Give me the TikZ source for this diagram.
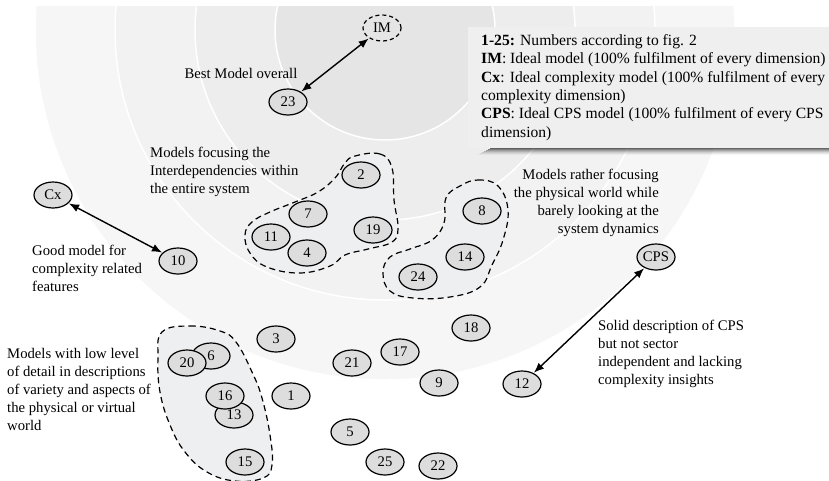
\documentclass[tikz,border=0pt]{standalone}
\usepackage{fontspec}
\setmainfont{Liberation Serif}
\usetikzlibrary{shapes.geometric,arrows.meta}

\definecolor{ringOne}{RGB}{229,229,229}
\definecolor{ringTwo}{RGB}{237,237,237}
\definecolor{ringThree}{RGB}{242,242,242}
\definecolor{ringFour}{RGB}{246,246,246}
\definecolor{nodegray}{RGB}{221,221,221}
\definecolor{groupfill}{RGB}{238,239,241}
\definecolor{legendfill}{RGB}{239,239,239}

\begin{document}
\begin{tikzpicture}[x=1pt,y=-1pt,
  txt/.style={font=\fontsize{14.7}{18}\selectfont},
  model/.style={ellipse,draw=black,line width=1.2pt,fill=nodegray,
    minimum width=38pt,minimum height=26pt,inner sep=0pt,txt},
  ideal/.style={model,fill=none,dash pattern=on 4pt off 3pt},
  note/.style={txt,inner sep=0pt},
  link/.style={{Latex[length=10pt,width=8pt]}-{Latex[length=10pt,width=8pt]},
    line width=1.4pt,shorten <=0.5pt,shorten >=0.5pt},
  cluster/.style={draw=black,line width=1.2pt,dash pattern=on 6pt off 4pt,
    fill=groupfill}
]
\useasboundingbox (0,0) rectangle (829,480);

% concentric rating rings around the ideal model
\begin{scope}
  \clip (0,6) rectangle (829,480);
  \fill[ringFour]  (385,30) circle[radius=350pt];
  \fill[ringThree] (385,30) circle[radius=270pt];
  \fill[ringTwo]   (385,30) circle[radius=190pt];
  \fill[ringOne]   (385,30) circle[radius=110pt];
  \foreach \r in {110,190,270,350}
    \draw[white,line width=1.5pt] (385,30) circle[radius=\r pt];
\end{scope}

% legend box with its shadow
\foreach \d/\o in {0/0.6,1/0.47,2/0.35,3/0.25,4/0.16,5/0.09,6/0.04}
  \fill[black,opacity=\o] (490-\d*2,148+\d) rectangle (829,149+\d);
\fill[legendfill] (468,27) rectangle (829,148);
\node[note,anchor=west,align=left,font=\fontsize{15.6}{18.3}\selectfont]
  (legend) at (481,87.5) {%
  \textbf{1-25:} Numbers according to fig. 2\\
  \textbf{IM}: Ideal model (100\% fulfilment of every dimension)\\
  \textbf{Cx}: Ideal complexity model (100\% fulfilment of every\\
  complexity dimension)\\
  \textbf{CPS}: Ideal CPS model (100\% fulfilment of every CPS\\
  dimension)};

% dashed clusters
\draw[cluster] plot[smooth cycle,tension=0.7] coordinates {
  (355,156) (380,154) (392,168) (394,200) (398,228) (392,242) (368,249)
  (345,255) (330,266) (300,273) (267,267) (250,253) (245,235) (252,222)
  (270,212) (295,202) (318,192) (335,178) (345,163)};
\draw[cluster] plot[smooth cycle,tension=0.7] coordinates {
  (460,186) (478,180) (498,186) (508,210) (503,240) (492,265) (480,287)
  (450,297) (413,298) (390,291) (383,273) (390,257) (410,249) (432,240)
  (444,223) (446,198)};
\draw[cluster] plot[smooth cycle,tension=0.7] coordinates {
  (162,332) (190,326) (220,331) (236,342) (252,372) (262,398) (270,435)
  (272,465) (263,478) (235,481) (207,472) (185,452) (170,425) (160,392)
  (158,358)};

% ideal models
\node[ideal] (IM) at (382,28) {IM};
\node[model] (Cx) at (53,195) {Cx};
\node[model] (CPS) at (656,257) {CPS};

% evaluated models
\node[model] (m23) at (288,102) {23};
\node[model] (m2)  at (361,175) {2};
\node[model] (m7)  at (308,214) {7};
\node[model] (m19) at (373,230) {19};
\node[model] (m11) at (271,237) {11};
\node[model] (m4)  at (307,253) {4};
\node[model] (m10) at (178,261) {10};
\node[model] (m8)  at (482,211) {8};
\node[model] (m14) at (465,257) {14};
\node[model] (m24) at (418,277) {24};
\node[model] (m18) at (471,328) {18};
\node[model] (m3)  at (276,339) {3};
\node[model] (m17) at (400,352) {17};
\node[model] (m21) at (352,363) {21};
\node[model] (m6)  at (211,356) {6};
\node[model] (m20) at (187,363) {20};
\node[model] (m9)  at (439,383) {9};
\node[model] (m12) at (522,384) {12};
\node[model] (m1)  at (291,396) {1};
\node[model] (m13) at (234,415) {13};
\node[model] (m16) at (225,396) {16};
\node[model] (m5)  at (350,432) {5};
\node[model] (m25) at (385,462) {25};
\node[model] (m22) at (438,466) {22};
\node[model] (m15) at (245,462) {15};

% links to the ideal models
\draw[link] (IM) -- (m23);
\draw[link] (Cx) -- (m10);
\draw[link] (CPS) -- (m12);

% annotations
\node[note] (best) at (241,73) {Best Model overall};
\node[note,anchor=west,align=left] (interdep) at (150,171.5)
  {Models focusing the\\Interdependencies within\\the entire system};
\node[note,anchor=west,align=left] (goodcx) at (32,268)
  {Good model for\\complexity related\\features};
\node[note,anchor=east,align=right] (physical) at (659,202.5)
  {Models rather focusing\\the physical world while\\barely looking at the\\system dynamics};
\node[note,anchor=west,align=left] (solid) at (598,354)
  {Solid description of CPS\\but not sector\\independent and lacking\\complexity insights};
\node[note,anchor=west,align=left] (lowdetail) at (7,389.5)
  {Models with low level\\of detail in descriptions\\of variety and aspects of\\the physical or virtual\\world};
\end{tikzpicture}
\end{document}
